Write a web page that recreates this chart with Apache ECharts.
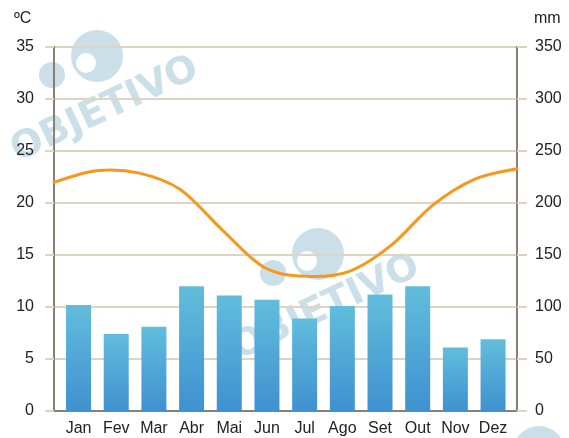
<!DOCTYPE html>
<html>
<head>
<meta charset="utf-8">
<script src="https://cdn.jsdelivr.net/npm/echarts@6/dist/echarts.min.js"></script>
<style>
html,body{margin:0;padding:0;background:#fff;}
#chart{width:569px;height:438px;}
</style>
</head>
<body>
<div id="chart"></div>
<script>
var months = ['Jan','Fev','Mar','Abr','Mai','Jun','Jul','Ago','Set','Out','Nov','Dez'];
var precipitation = [102, 74, 81, 120, 111, 107, 89, 101, 112, 120, 61, 69];
var temperature = [22.0, 23.1, 22.9, 21.3, 17.4, 13.8, 12.95, 13.4, 15.9, 19.8, 22.3, 23.3];
var tempTicks = {min: 0, max: 35, interval: 5};
var rainTicks = {min: 0, max: 350, interval: 50};
var tempUnit = 'ºC';
var rainUnit = 'mm';
var watermarkText = 'OBJETIVO';

var FONT = '"Liberation Sans", Arial, sans-serif';
var GRID_C = '#dcd5c4';
var AXIS_C = '#8a8070';
var WM = '#cbdfe9';

function watermark(dx, dy) {
  return [
    {type:'circle', shape:{cx:97+dx, cy:56+dy, r:26}, style:{fill:WM}, z:-10},
    {type:'circle', shape:{cx:52+dx, cy:75+dy, r:13}, style:{fill:WM}, z:-10},
    {type:'circle', shape:{cx:86+dx, cy:63+dy, r:11}, style:{fill:'#fff', stroke:WM, lineWidth:2}, z:-9},
    {type:'text', x:105+dx, y:110+dy, rotation:0.44, z:-10,
      style:{text:watermarkText, fill:WM, font:'bold 38px "DejaVu Sans", sans-serif', align:'center', verticalAlign:'middle'}}
  ];
}

// Smooth curve through the data points (Catmull-Rom style bezier), positioned via the axis scales
function renderSmoothLine(params, api) {
  if (params.dataIndex !== 0) return null;
  var pts = [];
  for (var i = 0; i < temperature.length; i++) {
    pts.push(api.coord([i, temperature[i]]));
  }
  var d = 'M' + pts[0][0] + ' ' + pts[0][1];
  for (var k = 0; k < pts.length - 1; k++) {
    var p0 = pts[Math.max(k - 1, 0)], p1 = pts[k], p2 = pts[k + 1], p3 = pts[Math.min(k + 2, pts.length - 1)];
    var c1x = p1[0] + (p2[0] - p0[0]) / 6, c1y = p1[1] + (p2[1] - p0[1]) / 6;
    var c2x = p2[0] - (p3[0] - p1[0]) / 6, c2y = p2[1] - (p3[1] - p1[1]) / 6;
    d += ' C' + c1x + ' ' + c1y + ' ' + c2x + ' ' + c2y + ' ' + p2[0] + ' ' + p2[1];
  }
  return {
    type:'path',
    shape:{pathData:d},
    style:{stroke:'#f7981d', lineWidth:3, fill:null, lineCap:'round', lineJoin:'round'}
  };
}

var chart = echarts.init(document.getElementById('chart'), null, {renderer:'canvas'});
chart.setOption({
  animation:false,
  backgroundColor:'#fff',
  graphic:[].concat(watermark(0,0), watermark(221,198), watermark(442,396), [
    {type:'text', left:14, top:11, style:{text:tempUnit, fill:'#222', font:'16px '+FONT}},
    {type:'text', left:534, top:11, style:{text:rainUnit, fill:'#222', font:'16px '+FONT}}
  ]),
  grid:[
    {left:54, right:52, top:47, bottom:27},
    {left:59.7, right:57.1, top:47, bottom:27}
  ],
  xAxis:[
    {type:'category', gridIndex:0, data:months, boundaryGap:false,
      axisLine:{show:true, lineStyle:{color:AXIS_C, width:2}},
      axisTick:{show:false}, axisLabel:{show:false}, splitLine:{show:false}},
    {type:'category', gridIndex:1, data:months, boundaryGap:true,
      axisLine:{show:false}, axisTick:{show:false},
      axisLabel:{show:true, color:'#222', fontSize:16, fontFamily:FONT, margin:10, interval:0}}
  ],
  yAxis:[
    {type:'value', gridIndex:0, position:'left', min:tempTicks.min, max:tempTicks.max, interval:tempTicks.interval,
      axisLine:{show:true, lineStyle:{color:AXIS_C, width:2}},
      axisTick:{show:true, length:9, lineStyle:{color:GRID_C, width:2}},
      axisLabel:{color:'#222', fontSize:16, fontFamily:FONT, margin:20},
      splitLine:{show:true, lineStyle:{color:GRID_C, width:2}}},
    {type:'value', gridIndex:0, position:'right', min:rainTicks.min, max:rainTicks.max, interval:rainTicks.interval,
      axisLine:{show:true, lineStyle:{color:AXIS_C, width:2}},
      axisTick:{show:true, length:10, lineStyle:{color:GRID_C, width:2}},
      axisLabel:{color:'#222', fontSize:16, fontFamily:FONT, margin:18},
      splitLine:{show:false}},
    {type:'value', gridIndex:1, min:rainTicks.min, max:rainTicks.max, interval:rainTicks.interval, show:false,
      splitLine:{show:false}}
  ],
  series:[
    {type:'bar', xAxisIndex:1, yAxisIndex:2, data:precipitation, barWidth:25, z:2,
      itemStyle:{color:new echarts.graphic.LinearGradient(0,0,0,1,[
        {offset:0, color:'#62bddc'},{offset:1, color:'#3f91d0'}])}},
    {type:'custom', xAxisIndex:0, yAxisIndex:0, z:3,
      data:temperature.map(function(v, i){ return [i, v]; }),
      renderItem:renderSmoothLine}
  ]
});
</script>
</body>
</html>
